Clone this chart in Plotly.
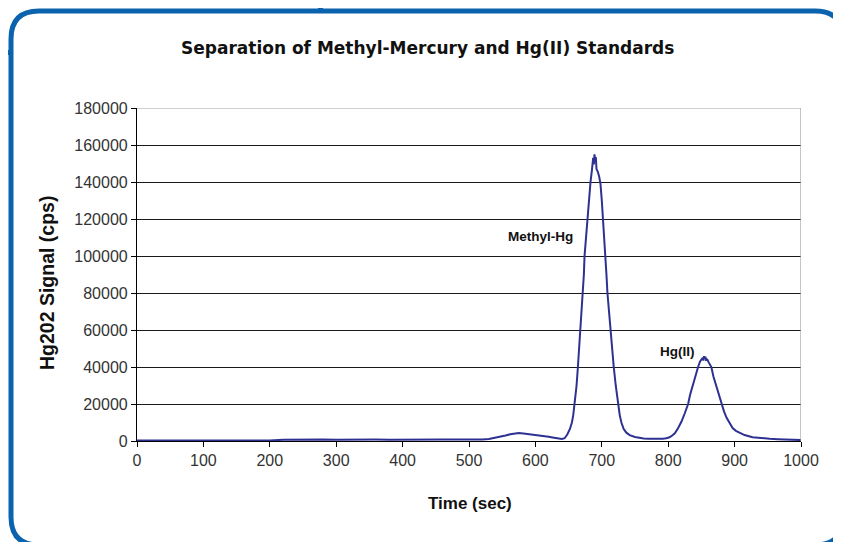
import plotly.graph_objects as go

# ---------------- data ----------------
time_s = [
    0, 20, 40, 60, 80, 100, 120, 140, 160, 180, 200, 220, 240, 260, 280, 300,
    320, 340, 360, 380, 400, 420, 440, 460, 480, 500,
    510, 520, 530, 540, 548, 555, 562, 568, 575, 582, 590, 598, 605, 612,
    620, 628, 635, 640, 644, 648, 652, 655, 657, 659, 662, 664, 666, 668,
    670, 671, 673, 674, 676, 678, 680, 682, 683, 685, 686, 687, 688, 689,
    690, 691, 692, 694, 696, 698, 700, 702, 704, 705.5, 707, 708.5, 711,
    713, 715.5, 718, 721, 724.5, 727, 729.5, 733, 737, 742, 750, 757, 763,
    770, 778, 786, 792, 797, 802, 806, 810, 815, 820, 825, 830, 833, 837,
    841, 845, 848, 850, 852, 853, 854, 855, 856, 857, 859, 861, 863, 865,
    868, 872, 876, 880, 884, 888, 892, 897, 902, 907, 915, 927, 940, 953,
    965, 975, 985, 995, 1000,
]
signal_cps = [
    300, 250, 350, 300, 280, 320, 300, 260, 330, 300, 280, 650, 800, 620, 850, 700,
    820, 650, 800, 720, 820, 700, 850, 760, 800, 700,
    750, 850, 1100, 1700, 2400, 3000, 3600, 4000, 4300, 4100, 3800, 3400, 3100, 2700,
    2300, 1800, 1300, 1100, 1500, 3500, 6500, 10000, 14000, 20000, 30000, 40000, 50000, 60000,
    72000, 80000, 90000, 100000, 110000, 120000, 129000, 136000, 140000, 146000, 150500, 153000, 149500, 155000,
    151000, 153500, 147000, 145500, 143000, 139000, 130000, 120000, 108000, 100000, 90000, 80000, 69000,
    60000, 50000, 40000, 30000, 20000, 14000, 10000, 6500, 4500, 3200, 2200, 1600, 1300,
    1200, 1100, 1300, 1200, 1500, 2000, 3000, 4200, 7000, 10500, 15000, 20000, 25000, 30000,
    36000, 40000, 43000, 44000, 45000, 43500, 45800, 44500, 45500, 43800, 44000, 42500, 41000, 40000,
    35000, 30000, 25000, 20000, 16000, 12500, 10000, 7000, 5500, 4500, 3200, 2000, 1500, 1200,
    1000, 900, 800, 600, 500,
]

x_ticks = [0, 100, 200, 300, 400, 500, 600, 700, 800, 900, 1000]
y_ticks = [0, 20000, 40000, 60000, 80000, 100000, 120000, 140000, 160000, 180000]

chart_title = "Separation of Methyl-Mercury and Hg(II) Standards"
x_title = "Time (sec)"
y_title = "Hg202 Signal (cps)"
peak_labels = ["Methyl-Hg", "Hg(II)"]
peak_label_x = [608, 814]
peak_label_y = [110400, 48200]

# ---------------- layout geometry ----------------
# the page body has an 8px margin, so the figure is drawn 8px in from the window edge
OFF = 8
W, H = 841 - OFF, 542 - OFF
ML, MT = 137 - OFF, 108 - OFF
MR = W - (801 - OFF)
MB = H - (441 - OFF)
PW, PH = W - ML - MR, H - MT - MB


def px(x):  # window pixel -> paper x
    return (x - OFF - ML) / PW


def py(y):  # window pixel -> paper y
    return (H - MB - (y - OFF)) / PH


def rounded_rect(x0, y0, x1, y1, r):
    pts = [
        f"M {px(x0 + r)},{py(y0)}",
        f"L {px(x1 - r)},{py(y0)}",
        f"Q {px(x1)},{py(y0)} {px(x1)},{py(y0 + r)}",
        f"L {px(x1)},{py(y1 - r)}",
        f"Q {px(x1)},{py(y1)} {px(x1 - r)},{py(y1)}",
        f"L {px(x0 + r)},{py(y1)}",
        f"Q {px(x0)},{py(y1)} {px(x0)},{py(y1 - r)}",
        f"L {px(x0)},{py(y0 + r)}",
        f"Q {px(x0)},{py(y0)} {px(x0 + r)},{py(y0)}",
        "Z",
    ]
    return " ".join(pts)


frame_color = "#0B63AE"

fig = go.Figure()
fig.add_trace(go.Scatter(
    x=time_s, y=signal_cps, mode="lines",
    line=dict(color="#2E3192", width=2),
    showlegend=False, hoverinfo="skip",
))

shapes = [
    # gray plot-area border (top and right)
    dict(type="line", xref="x", yref="y", x0=0, x1=1000, y0=180000, y1=180000,
         line=dict(color="#A0A0A0", width=1.2), layer="above"),
    dict(type="line", xref="x", yref="y", x0=1000, x1=1000, y0=0, y1=180000,
         line=dict(color="#A0A0A0", width=1.2), layer="above"),
    # blue decorative frame
    dict(type="path", xref="paper", yref="paper", path=rounded_rect(11, 11, 843, 545, 28),
         line=dict(color=frame_color, width=5), fillcolor="rgba(0,0,0,0)", layer="above"),
    dict(type="line", xref="paper", yref="paper", x0=px(320.5), x1=px(320.5), y0=py(-2), y1=py(11),
         line=dict(color=frame_color, width=5), layer="above"),
    dict(type="line", xref="paper", yref="paper", x0=px(-2), x1=px(11), y0=py(52.5), y1=py(52.5),
         line=dict(color=frame_color, width=5), layer="above"),
]

annotations = [
    dict(text=f"<b>{chart_title}</b>", xref="paper", yref="paper", x=px(427.5), y=py(48),
         showarrow=False, xanchor="center", yanchor="middle",
         font=dict(family="DejaVu Sans", size=17, color="#111111")),
    dict(text=f"<b>{x_title}</b>", xref="paper", yref="paper", x=px(469.7), y=py(503),
         showarrow=False, xanchor="center", yanchor="middle",
         font=dict(family="Liberation Sans", size=17, color="#111111")),
    dict(text=f"<b>{y_title}</b>", xref="paper", yref="paper", x=px(47), y=py(283),
         showarrow=False, xanchor="center", yanchor="middle", textangle=-90,
         font=dict(family="Liberation Sans", size=19.5, color="#111111")),
]
for lab, lx, ly in zip(peak_labels, peak_label_x, peak_label_y):
    annotations.append(dict(text=f"<b>{lab}</b>", x=lx, y=ly, xref="x", yref="y",
                            showarrow=False, xanchor="center", yanchor="middle",
                            font=dict(family="Liberation Sans", size=13.5, color="#111111")))

fig.update_layout(
    width=W, height=H,
    margin=dict(l=ML, r=MR, t=MT, b=MB, pad=0),
    paper_bgcolor="white", plot_bgcolor="white",
    shapes=shapes, annotations=annotations,
    xaxis=dict(range=[0, 1000], tickvals=x_ticks, ticktext=[str(v) for v in x_ticks],
               showgrid=False, zeroline=False, showline=True, linecolor="#000000", linewidth=1.2,
               ticks="outside", ticklen=5, tickcolor="#000000", tickwidth=1.2,
               tickfont=dict(family="Liberation Sans", size=16, color="#333333"),
               fixedrange=True),
    yaxis=dict(range=[0, 180000], tickvals=y_ticks, ticktext=[str(v) for v in y_ticks],
               showgrid=True, gridcolor="#1A1A1A", gridwidth=1.2,
               zeroline=False, showline=True, linecolor="#000000", linewidth=1.2,
               ticks="outside", ticklen=5, tickcolor="#000000", tickwidth=1.2,
               tickfont=dict(family="Liberation Sans", size=16, color="#333333"),
               fixedrange=True),
    font=dict(family="Liberation Sans"),
)

fig.write_html("out.html")
